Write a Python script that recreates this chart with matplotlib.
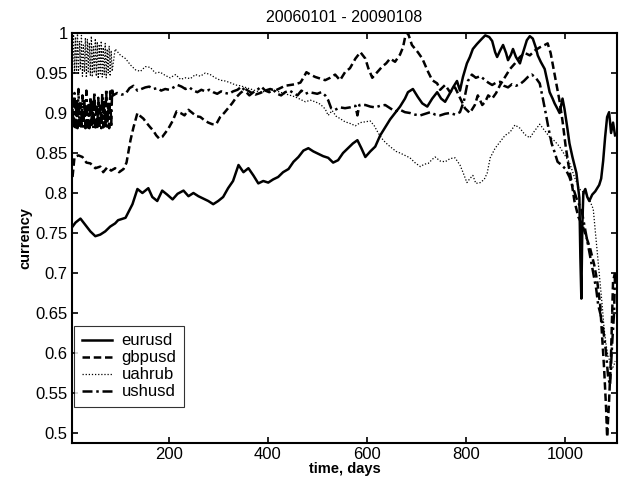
import matplotlib
matplotlib.use("Agg")
import matplotlib.pyplot as plt
from matplotlib.ticker import FuncFormatter

# values (day, normalised rate)
eur_days = [6, 12, 22, 32, 42, 52, 62, 72, 82, 92, 98, 113, 127, 137, 147, 159, 167, 177, 187, 197,
            208, 218, 230, 240, 250, 260, 270, 280, 290, 300, 310, 320, 330, 341, 351, 361, 371, 381, 391, 401,
            411, 421, 431, 442, 452, 462, 472, 482, 492, 502, 512, 522, 532, 542, 552, 562, 572, 581, 589, 597,
            607, 617, 627, 637, 647, 657, 667, 677, 683, 693, 703, 712, 722, 732, 742, 750, 758, 768, 774, 782,
            788, 794, 802, 808, 814, 822, 831, 839, 847, 853, 859, 863, 869, 875, 881, 885, 891, 895, 901, 909,
            915, 923, 929, 935, 941, 945, 951, 959, 965, 969, 975, 979, 985, 989, 995, 999, 1005, 1009, 1015, 1019,
            1023, 1027, 1029, 1031, 1033, 1035, 1037, 1041, 1045, 1049, 1055, 1061, 1069, 1073, 1077, 1081, 1085, 1089, 1093, 1097,
            1101]
eurusd = [0.758, 0.763, 0.768, 0.760, 0.752, 0.746, 0.748, 0.752, 0.758, 0.762, 0.766, 0.769, 0.786, 0.805, 0.800, 0.806, 0.795, 0.790, 0.803, 0.798,
          0.792, 0.799, 0.803, 0.796, 0.800, 0.796, 0.793, 0.790, 0.786, 0.790, 0.795, 0.806, 0.815, 0.835, 0.826, 0.831, 0.822, 0.812, 0.815, 0.813,
          0.817, 0.820, 0.826, 0.830, 0.839, 0.845, 0.853, 0.856, 0.852, 0.849, 0.846, 0.844, 0.838, 0.841, 0.850, 0.856, 0.862, 0.866, 0.856, 0.845,
          0.852, 0.858, 0.872, 0.882, 0.892, 0.900, 0.908, 0.918, 0.926, 0.930, 0.920, 0.912, 0.908, 0.918, 0.926, 0.918, 0.914, 0.925, 0.932, 0.940,
          0.928, 0.945, 0.962, 0.970, 0.980, 0.986, 0.992, 0.997, 0.995, 0.990, 0.976, 0.970, 0.978, 0.985, 0.975, 0.966, 0.973, 0.980, 0.970, 0.962,
          0.975, 0.991, 0.996, 0.993, 0.982, 0.972, 0.964, 0.955, 0.938, 0.926, 0.918, 0.912, 0.905, 0.900, 0.918, 0.905, 0.880, 0.862, 0.845, 0.835,
          0.825, 0.805, 0.794, 0.720, 0.668, 0.760, 0.800, 0.805, 0.795, 0.790, 0.798, 0.802, 0.810, 0.818, 0.840, 0.870, 0.895, 0.901, 0.875, 0.888,
          0.872]

gbp_days = [6, 10, 18, 26, 34, 42, 52, 62, 68, 76, 84, 92, 100, 109, 115, 119, 123, 129, 137, 143,
            149, 155, 163, 169, 175, 181, 187, 193, 199, 208, 216, 224, 232, 240, 248, 256, 264, 272, 280, 288,
            296, 304, 312, 320, 328, 337, 345, 355, 365, 375, 385, 395, 405, 415, 425, 435, 446, 456, 466, 472,
            478, 486, 496, 506, 516, 526, 536, 546, 556, 566, 577, 587, 597, 603, 611, 621, 631, 639, 647, 657,
            667, 673, 677, 683, 691, 703, 712, 724, 732, 742, 748, 758, 768, 778, 788, 798, 808, 818, 824, 833,
            839, 845, 853, 861, 869, 879, 889, 899, 909, 919, 929, 939, 949, 959, 965, 971, 977, 983, 989, 995,
            1001, 1007, 1013, 1019, 1027, 1035, 1043, 1051, 1059, 1065, 1071, 1075, 1079, 1083, 1085, 1089, 1093, 1097, 1101]
gbpusd = [0.820, 0.845, 0.847, 0.845, 0.838, 0.837, 0.831, 0.833, 0.826, 0.832, 0.828, 0.831, 0.826, 0.830, 0.838, 0.852, 0.866, 0.882, 0.900, 0.896,
          0.893, 0.888, 0.882, 0.878, 0.872, 0.868, 0.870, 0.875, 0.880, 0.890, 0.902, 0.900, 0.897, 0.904, 0.900, 0.896, 0.895, 0.891, 0.888, 0.886,
          0.886, 0.895, 0.900, 0.906, 0.912, 0.920, 0.925, 0.930, 0.926, 0.923, 0.925, 0.928, 0.930, 0.928, 0.931, 0.934, 0.935, 0.936, 0.938, 0.944,
          0.951, 0.948, 0.945, 0.943, 0.941, 0.944, 0.948, 0.941, 0.951, 0.956, 0.968, 0.976, 0.968, 0.956, 0.944, 0.951, 0.958, 0.962, 0.968, 0.964,
          0.973, 0.982, 0.994, 1.000, 0.985, 0.976, 0.968, 0.951, 0.941, 0.937, 0.929, 0.935, 0.926, 0.932, 0.919, 0.906, 0.900, 0.910, 0.922, 0.910,
          0.914, 0.922, 0.918, 0.925, 0.935, 0.945, 0.955, 0.962, 0.970, 0.975, 0.972, 0.978, 0.982, 0.985, 0.987, 0.975, 0.955, 0.935, 0.915, 0.890,
          0.860, 0.835, 0.815, 0.790, 0.770, 0.760, 0.745, 0.730, 0.710, 0.690, 0.660, 0.620, 0.580, 0.530, 0.495, 0.540, 0.600, 0.690, 0.700]

uah_days = [6, 8, 10, 12, 14, 16, 18, 20, 22, 24, 26, 28, 30, 32, 34, 36, 38, 40, 42, 44,
            46, 48, 50, 52, 54, 56, 58, 60, 62, 64, 66, 68, 70, 72, 74, 76, 78, 80, 82, 84,
            86, 92, 103, 113, 123, 133, 143, 153, 163, 173, 183, 193, 203, 214, 224, 234, 244, 254, 264, 274,
            284, 294, 304, 314, 324, 335, 345, 355, 365, 375, 385, 395, 405, 415, 425, 435, 446, 456, 466, 476,
            486, 496, 506, 516, 522, 530, 538, 546, 556, 566, 577, 587, 597, 607, 615, 623, 633, 643, 651, 659,
            667, 677, 687, 697, 708, 716, 724, 732, 738, 748, 758, 768, 778, 788, 794, 802, 808, 814, 820, 829,
            837, 843, 849, 859, 869, 879, 889, 899, 909, 919, 929, 939, 949, 959, 969, 979, 989, 999, 1009, 1019,
            1029, 1039, 1049, 1057, 1063, 1069, 1075, 1079, 1083, 1087, 1091, 1095, 1099, 1101]
uahrub = [0.960, 0.998, 0.950, 0.995, 0.952, 0.999, 0.948, 0.990, 0.955, 0.997, 0.946, 0.985, 0.951, 0.994, 0.944, 0.992, 0.950, 0.988, 0.947, 0.996,
          0.945, 0.983, 0.950, 0.993, 0.946, 0.989, 0.943, 0.986, 0.949, 0.990, 0.945, 0.982, 0.948, 0.987, 0.944, 0.980, 0.950, 0.984, 0.946, 0.978,
          0.952, 0.980, 0.972, 0.968, 0.960, 0.954, 0.952, 0.958, 0.957, 0.950, 0.951, 0.947, 0.944, 0.948, 0.942, 0.944, 0.943, 0.948, 0.946, 0.950,
          0.948, 0.944, 0.941, 0.940, 0.938, 0.935, 0.934, 0.932, 0.930, 0.928, 0.926, 0.927, 0.929, 0.928, 0.926, 0.924, 0.922, 0.920, 0.917, 0.914,
          0.916, 0.914, 0.911, 0.905, 0.897, 0.903, 0.896, 0.893, 0.889, 0.887, 0.884, 0.888, 0.889, 0.890, 0.884, 0.875, 0.866, 0.860, 0.856, 0.852,
          0.850, 0.847, 0.844, 0.838, 0.833, 0.836, 0.837, 0.842, 0.845, 0.840, 0.839, 0.843, 0.844, 0.835, 0.826, 0.813, 0.818, 0.822, 0.812, 0.813,
          0.817, 0.825, 0.844, 0.856, 0.864, 0.872, 0.876, 0.885, 0.881, 0.873, 0.869, 0.878, 0.886, 0.878, 0.870, 0.865, 0.858, 0.848, 0.838, 0.820,
          0.805, 0.800, 0.792, 0.780, 0.740, 0.700, 0.660, 0.630, 0.610, 0.595, 0.590, 0.580, 0.585, 0.590]

ush_days = [6, 8, 10, 12, 14, 16, 18, 20, 22, 24, 26, 28, 30, 32, 34, 36, 38, 40, 42, 44,
            46, 48, 50, 52, 54, 56, 58, 60, 62, 64, 66, 68, 70, 72, 74, 76, 78, 80, 82, 84,
            86, 88, 96, 105, 113, 121, 129, 137, 145, 153, 161, 169, 177, 185, 193, 201, 210, 218, 226, 234,
            242, 250, 258, 266, 274, 282, 290, 298, 306, 314, 322, 330, 339, 347, 355, 363, 371, 379, 387, 395,
            403, 411, 419, 427, 435, 444, 452, 460, 468, 476, 484, 492, 500, 508, 516, 522, 528, 536, 546, 556,
            566, 577, 581, 585, 597, 607, 617, 627, 637, 647, 657, 667, 677, 687, 697, 708, 718, 728, 738, 748,
            758, 768, 778, 788, 796, 804, 812, 820, 829, 837, 845, 853, 861, 869, 877, 885, 893, 901, 909, 917,
            925, 933, 941, 949, 955, 961, 967, 973, 979, 985, 993, 1001, 1009, 1017, 1025, 1033, 1039, 1045, 1051, 1057,
            1063, 1067, 1071, 1075, 1079, 1083, 1087, 1091, 1095, 1099, 1101]
ushusd = [0.905, 0.881, 0.925, 0.882, 0.918, 0.881, 0.930, 0.884, 0.912, 0.881, 0.922, 0.883, 0.915, 0.881, 0.928, 0.882, 0.910, 0.881, 0.920, 0.885,
          0.914, 0.881, 0.926, 0.882, 0.908, 0.881, 0.919, 0.884, 0.912, 0.881, 0.924, 0.882, 0.916, 0.881, 0.930, 0.883, 0.913, 0.881, 0.927, 0.882,
          0.931, 0.922, 0.925, 0.923, 0.924, 0.931, 0.934, 0.928, 0.930, 0.932, 0.933, 0.930, 0.931, 0.928, 0.930, 0.929, 0.932, 0.935, 0.933, 0.930,
          0.932, 0.928, 0.926, 0.929, 0.927, 0.929, 0.926, 0.924, 0.927, 0.925, 0.924, 0.927, 0.929, 0.933, 0.927, 0.922, 0.926, 0.929, 0.933, 0.928,
          0.926, 0.929, 0.924, 0.922, 0.926, 0.928, 0.925, 0.922, 0.928, 0.924, 0.926, 0.925, 0.924, 0.926, 0.922, 0.916, 0.906, 0.904, 0.907, 0.906,
          0.907, 0.909, 0.897, 0.910, 0.910, 0.908, 0.907, 0.909, 0.910, 0.906, 0.902, 0.904, 0.901, 0.900, 0.898, 0.897, 0.899, 0.901, 0.898, 0.897,
          0.899, 0.900, 0.898, 0.901, 0.915, 0.940, 0.948, 0.944, 0.946, 0.942, 0.938, 0.935, 0.938, 0.939, 0.934, 0.932, 0.936, 0.934, 0.936, 0.940,
          0.945, 0.948, 0.944, 0.937, 0.919, 0.900, 0.880, 0.862, 0.851, 0.839, 0.835, 0.830, 0.820, 0.805, 0.790, 0.780, 0.760, 0.740, 0.720, 0.700,
          0.680, 0.660, 0.650, 0.640, 0.620, 0.600, 0.570, 0.560, 0.610, 0.650, 0.700]

y_ticks = [0.5, 0.55, 0.6, 0.65, 0.7, 0.75, 0.8, 0.85, 0.9, 0.95, 1.0]
x_ticks = [200, 400, 600, 800, 1000]

plt.rcParams['font.family'] = ['Liberation Sans', 'DejaVu Sans']

fig = plt.figure(figsize=(6.22, 4.83), dpi=100)
ax = fig.add_axes([0.1158, 0.0828, 0.8762, 0.8489])

ax.plot(eur_days, eurusd, color='black', lw=1.8, ls='-', label='eurusd')
ax.plot(gbp_days, gbpusd, color='black', lw=1.8, ls=(0, (3, 1.5)), label='gbpusd')
ax.plot(uah_days, uahrub, color='black', lw=0.9, ls=(0, (1, 1.5)), label='uahrub')
ax.plot(ush_days, ushusd, color='black', lw=1.8, ls=(0, (4, 1.5, 1, 1.5)), label='ushusd')

ax.set_xlim(5, 1105)
ax.set_ylim(0.4875, 1.0)
ax.set_xticks(x_ticks)
ax.set_yticks(y_ticks)
ax.yaxis.set_major_formatter(FuncFormatter(lambda v, p: '%g' % v))
ax.tick_params(direction='in', length=4, width=1.2, top=True, right=True, labelsize=12, colors='black', pad=3)
for s in ax.spines.values():
    s.set_linewidth(1.5)

ax.set_title('20060101 - 20090108', fontsize=11.5, pad=8)
ax.set_xlabel('time, days', fontsize=10.5, fontweight='bold', labelpad=0)
ax.set_ylabel('currency', fontsize=10.5, fontweight='bold', labelpad=2)

leg = ax.legend(loc='lower left', bbox_to_anchor=(0.004, 0.088), borderaxespad=0, fontsize=12,
                frameon=True, fancybox=False, handlelength=1.8, handletextpad=0.6, labelspacing=0.12,
                borderpad=0.45)
leg.get_frame().set_edgecolor('black')
leg.get_frame().set_linewidth(0.8)

fig.savefig('out.png', dpi=100)
